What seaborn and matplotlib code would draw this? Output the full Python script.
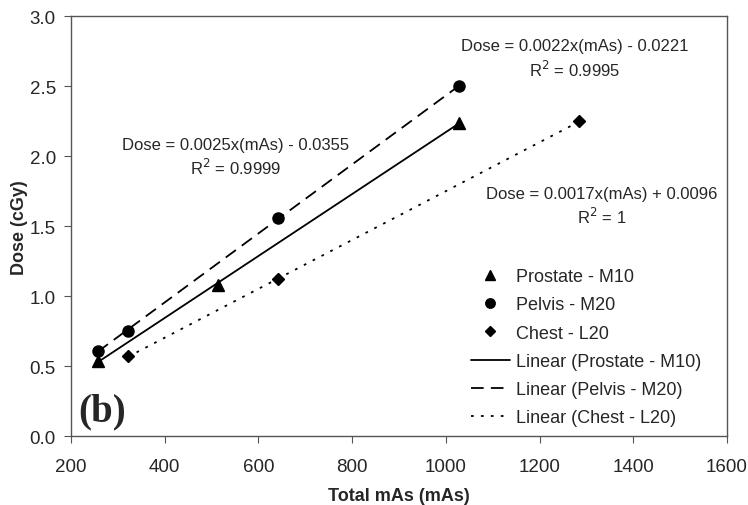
import numpy as np
import pandas as pd
import matplotlib
matplotlib.use('Agg')
import matplotlib.pyplot as plt
import seaborn as sns

# data
prostate_mas = [257, 514, 1028]
prostate_dose = [0.54, 1.08, 2.24]
pelvis_mas = [257, 321, 642, 1028]
pelvis_dose = [0.61, 0.75, 1.56, 2.50]
chest_mas = [321, 642, 1285]
chest_dose = [0.57, 1.12, 2.25]

series = [
    ('Prostate - M10', prostate_mas, prostate_dose, '^', 8, '-'),
    ('Pelvis - M20', pelvis_mas, pelvis_dose, 'o', 8, (0, (7, 4))),
    ('Chest - L20', chest_mas, chest_dose, 'D', 6, (0, (1.5, 4))),
]

sns.set_style('ticks')
plt.rcParams['font.family'] = ['Liberation Sans', 'DejaVu Sans']

fig = plt.figure(figsize=(7.48, 5.06), dpi=100)
ax = fig.add_axes([0.095, 0.136, 0.877, 0.830])

point_handles = []
line_handles = []
for name, x, y, mk, ms, ls in series:
    df = pd.DataFrame({'mas': x, 'dose': y})
    sns.regplot(data=df, x='mas', y='dose', ax=ax, scatter=False, ci=None,
                color='black', line_kws={'linestyle': ls, 'linewidth': 1.3})
    line_handles.append(ax.lines[-1])
    h, = ax.plot(x, y, linestyle='none', marker=mk, markersize=ms, color='black')
    point_handles.append(h)

ax.set_xlim(200, 1600)
ax.set_ylim(0, 3.0)
ax.set_xticks(np.arange(200, 1601, 200))
ax.set_yticks(np.arange(0, 3.01, 0.5))
ax.yaxis.set_major_formatter(matplotlib.ticker.FormatStrFormatter('%.1f'))
ax.tick_params(labelsize=13.5, direction='out', length=5, color='#555555')
ax.tick_params(axis='x', pad=11)
ax.tick_params(axis='y', pad=6)
for s in ax.spines.values():
    s.set_color('#555555')
    s.set_linewidth(1.0)

ax.set_xlabel('Total mAs (mAs)', fontsize=13, fontweight='bold', labelpad=8)
ax.set_ylabel('Dose (cGy)', fontsize=13, fontweight='bold', labelpad=1)

fs = 12
ax.text(552, 2.086, 'Dose = 0.0025x(mAs) - 0.0355', ha='center', va='center', fontsize=fs)
ax.text(552, 1.92, 'R$^2$ = 0.9999', ha='center', va='center', fontsize=fs)
ax.text(1275, 2.79, 'Dose = 0.0022x(mAs) - 0.0221', ha='center', va='center', fontsize=fs)
ax.text(1275, 2.62, 'R$^2$ = 0.9995', ha='center', va='center', fontsize=fs)
ax.text(1333, 1.73, 'Dose = 0.0017x(mAs) + 0.0096', ha='center', va='center', fontsize=fs)
ax.text(1333, 1.57, 'R$^2$ = 1', ha='center', va='center', fontsize=fs)

ax.text(215, 0.18, '(b)', fontsize=28, fontweight='bold', family='Liberation Serif',
        ha='left', va='center')

labels = [s[0] for s in series] + ['Linear (%s)' % s[0] for s in series]
ax.legend(point_handles + line_handles, labels, loc='lower right',
          bbox_to_anchor=(0.985, -0.015), frameon=False, fontsize=13,
          handlelength=2.2, handletextpad=0.3, labelspacing=0.62,
          markerscale=0.85)

fig.savefig('out.png', dpi=100)
